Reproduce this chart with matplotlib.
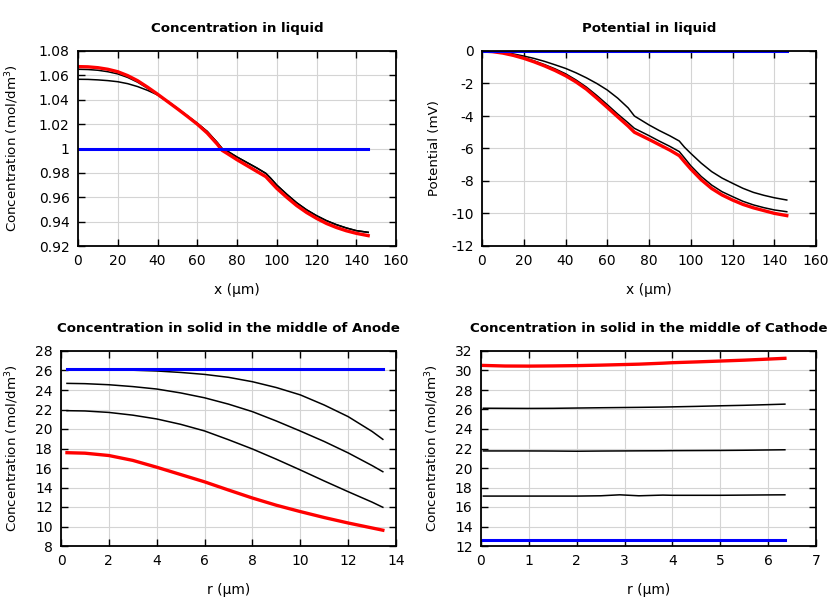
import numpy as np
import matplotlib
matplotlib.use("Agg")
import matplotlib.pyplot as plt

# ---- Concentration in liquid ----
x_liq = [0, 5, 10, 15, 20, 25, 30, 35, 40, 45, 50, 55, 60, 65, 70, 72.5, 75, 80, 85, 90, 94.5,
         97, 100, 105, 110, 115, 120, 125, 130, 135, 140, 146]
cl_blue = [1.0] * len(x_liq)
cl_red = [1.0672, 1.0670, 1.0663, 1.0650, 1.0630, 1.0598, 1.0556, 1.0503, 1.0446, 1.0386, 1.0326,
          1.0264, 1.0200, 1.0127, 1.0037, 0.9985, 0.9960, 0.9908, 0.9860, 0.9812, 0.9769,
          0.9725, 0.9673, 0.9600, 0.9532, 0.9475, 0.9427, 0.9385, 0.9352, 0.9325, 0.9304, 0.9285]
cl_blk1 = [1.0650, 1.0648, 1.0642, 1.0630, 1.0612, 1.0583, 1.0544, 1.0494, 1.0440, 1.0384, 1.0328,
           1.0268, 1.0207, 1.0140, 1.0050, 1.0000, 0.9980, 0.9930, 0.9885, 0.9840, 0.9796,
           0.9755, 0.9700, 0.9625, 0.9555, 0.9497, 0.9449, 0.9408, 0.9375, 0.9348, 0.9326, 0.9312]
cl_blk2 = [1.0568, 1.0567, 1.0563, 1.0557, 1.0548, 1.0532, 1.0508, 1.0477, 1.0440, 1.0390, 1.0330,
           1.0268, 1.0207, 1.0140, 1.0050, 1.0000, 0.9980, 0.9930, 0.9885, 0.9840, 0.9796,
           0.9755, 0.9700, 0.9625, 0.9555, 0.9497, 0.9449, 0.9408, 0.9375, 0.9348, 0.9326, 0.9312]

# ---- Potential in liquid ----
x_pot = [0, 5, 10, 15, 20, 25, 30, 35, 40, 45, 50, 55, 60, 65, 70, 73, 80, 85, 90, 94.5, 97, 100,
         105, 110, 115, 120, 125, 130, 135, 140, 146]
pl_blue = [0.0] * len(x_pot)
pl_blkA = [0, -0.02, -0.08, -0.18, -0.31, -0.46, -0.64, -0.85, -1.07, -1.34, -1.65, -2.00, -2.40,
           -2.90, -3.50, -4.00, -4.55, -4.90, -5.22, -5.54, -5.92, -6.30, -6.90, -7.42, -7.82,
           -8.14, -8.45, -8.70, -8.88, -9.03, -9.17]
pl_blkB = [0, -0.03, -0.12, -0.25, -0.41, -0.61, -0.84, -1.10, -1.40, -1.78, -2.22, -2.74, -3.30,
           -3.88, -4.42, -4.76, -5.21, -5.55, -5.87, -6.19, -6.58, -7.06, -7.72, -8.25, -8.66,
           -8.96, -9.25, -9.47, -9.64, -9.78, -9.89]
pl_red = [0, -0.04, -0.13, -0.27, -0.45, -0.67, -0.92, -1.20, -1.52, -1.90, -2.35, -2.90, -3.47,
          -4.05, -4.62, -5.00, -5.44, -5.77, -6.10, -6.44, -6.82, -7.26, -7.92, -8.46, -8.86,
          -9.17, -9.44, -9.65, -9.82, -9.99, -10.13]

# ---- Concentration in solid, anode ----
r_an = [0.25, 1, 2, 3, 4, 5, 6, 7, 8, 9, 10, 11, 12, 13, 13.45]
an_blue = [26.15] * len(r_an)
an_blk1 = [26.12, 26.10, 26.08, 26.03, 25.95, 25.80, 25.60, 25.30, 24.85, 24.25, 23.50, 22.46,
           21.27, 19.75, 18.94]
an_blk2 = [24.68, 24.65, 24.54, 24.35, 24.10, 23.70, 23.20, 22.55, 21.78, 20.82, 19.79, 18.72,
           17.55, 16.25, 15.62]
an_blk3 = [21.88, 21.85, 21.70, 21.42, 21.03, 20.48, 19.80, 18.90, 17.95, 16.90, 15.80, 14.67,
           13.57, 12.50, 11.97]
an_red = [17.57, 17.52, 17.28, 16.78, 16.08, 15.33, 14.58, 13.74, 12.92, 12.18, 11.53, 10.92,
          10.36, 9.85, 9.62]

# ---- Concentration in solid, cathode ----
r_ca = [0.05, 0.5, 1, 1.5, 2, 2.5, 2.9, 3.3, 3.8, 4, 4.5, 5, 5.5, 6, 6.35]
ca_blue = [12.6] * len(r_ca)
ca_red = [30.52, 30.46, 30.45, 30.47, 30.50, 30.55, 30.60, 30.65, 30.75, 30.80, 30.88, 30.97,
          31.06, 31.17, 31.25]
ca_blk1 = [26.13, 26.12, 26.11, 26.12, 26.15, 26.18, 26.20, 26.22, 26.25, 26.27, 26.32, 26.38,
           26.43, 26.50, 26.55]
ca_blk2 = [21.75, 21.75, 21.75, 21.74, 21.72, 21.74, 21.75, 21.76, 21.77, 21.78, 21.79, 21.80,
           21.82, 21.85, 21.87]
ca_blk3 = [17.12, 17.12, 17.12, 17.12, 17.12, 17.15, 17.25, 17.15, 17.22, 17.20, 17.20, 17.20,
           17.22, 17.24, 17.25]

RED = "#ff0000"
BLUE = "#0000ff"
LW_RED = 2.4
LW_BLUE = 2.2
LW_BLK = 1.1

fig = plt.figure(figsize=(8.4, 6.0), dpi=100)
W, H = 840, 600

def make_ax(l, t, r, b):
    return fig.add_axes([l / W, 1 - b / H, (r - l) / W, (b - t) / H])

def style(ax, box, label_x, xlim, ylim, xticks, yticks, xlabel, ylabel, title, yfmt=None):
    l, t, r, b = box
    ax.set_xlim(*xlim)
    ax.set_ylim(*ylim)
    ax.set_xticks(xticks)
    ax.set_yticks(yticks)
    if yfmt is not None:
        ax.set_yticklabels([yfmt(v) for v in yticks])
    ax.grid(True, color="#d4d4d4", linewidth=0.8)
    ax.set_axisbelow(True)
    ax.tick_params(direction="in", top=True, right=True, length=5, width=1.0,
                   labelsize=10, pad=6, colors="black")
    for s in ax.spines.values():
        s.set_linewidth(1.3)
    ax.set_xlabel(xlabel, fontsize=10, labelpad=10.5)
    ax.set_ylabel(ylabel, fontsize=9.6)
    ax.yaxis.set_label_coords((label_x - l) / (r - l), 0.5)
    ax.set_title(title, fontsize=9.6, fontweight="bold", pad=14)

def fmt_g(v):
    return ("%.2f" % v).rstrip("0").rstrip(".")

box1 = (78, 51, 396, 246)
ax1 = make_ax(*box1)
ax1.plot(x_liq, cl_blk2, color="black", lw=LW_BLK)
ax1.plot(x_liq, cl_blk1, color="black", lw=LW_BLK)
ax1.plot(x_liq, cl_red, color=RED, lw=LW_RED)
ax1.plot(x_liq, cl_blue, color=BLUE, lw=LW_BLUE)
style(ax1, box1, 21, (0, 160), (0.92, 1.08), np.arange(0, 161, 20),
      [0.92, 0.94, 0.96, 0.98, 1.0, 1.02, 1.04, 1.06, 1.08],
      "x (µm)", "Concentration (mol/dm$^3$)", "Concentration in liquid", yfmt=fmt_g)

box2 = (482, 51, 816, 246)
ax2 = make_ax(*box2)
ax2.plot(x_pot, pl_blkA, color="black", lw=LW_BLK)
ax2.plot(x_pot, pl_blkB, color="black", lw=LW_BLK)
ax2.plot(x_pot, pl_red, color=RED, lw=LW_RED)
ax2.plot(x_pot, pl_blue, color=BLUE, lw=LW_BLUE)
style(ax2, box2, 441, (0, 160), (-12, 0), np.arange(0, 161, 20), np.arange(-12, 1, 2),
      "x (µm)", "Potential (mV)", "Potential in liquid", yfmt=lambda v: "%d" % v)

box3 = (61, 351, 396, 546)
ax3 = make_ax(*box3)
for yy in (an_blk1, an_blk2, an_blk3):
    ax3.plot(r_an, yy, color="black", lw=LW_BLK)
ax3.plot(r_an, an_red, color=RED, lw=LW_RED)
ax3.plot(r_an, an_blue, color=BLUE, lw=LW_BLUE)
style(ax3, box3, 21, (0, 14), (8, 28), np.arange(0, 15, 2), np.arange(8, 29, 2),
      "r (µm)", "Concentration (mol/dm$^3$)", "Concentration in solid in the middle of Anode")

box4 = (481, 351, 816, 546)
ax4 = make_ax(*box4)
for yy in (ca_blk1, ca_blk2, ca_blk3):
    ax4.plot(r_ca, yy, color="black", lw=LW_BLK)
ax4.plot(r_ca, ca_red, color=RED, lw=LW_RED)
ax4.plot(r_ca, ca_blue, color=BLUE, lw=LW_BLUE)
style(ax4, box4, 441, (0, 7), (12, 32), np.arange(0, 8, 1), np.arange(12, 33, 2),
      "r (µm)", "Concentration (mol/dm$^3$)", "Concentration in solid in the middle of Cathode")

fig.savefig("out.png", dpi=100)
